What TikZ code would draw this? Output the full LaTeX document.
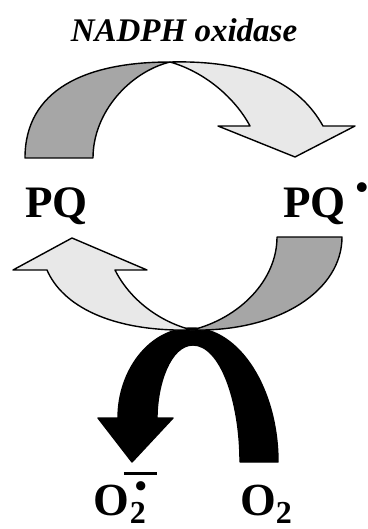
\documentclass[tikz,border=0pt]{standalone}
\usepackage{fontspec}
\setmainfont{Liberation Serif}
\usetikzlibrary{positioning}

\begin{document}
\begin{tikzpicture}[
    x=1pt, y=-1pt,
    band/.style={draw, line width=1.4pt, line join=round, fill=#1},
    band/.default=black!9,
    species/.style={inner sep=0pt, anchor=base west, font=\bfseries\fontsize{45}{45}\selectfont},
    enzyme/.style={inner sep=0pt, anchor=base, font=\bfseries\itshape\fontsize{33}{33}\selectfont},
]
\useasboundingbox (0,0) rectangle (367,529);

% upper cycle: PQ -> PQ radical
\draw[band=black!35] (25,158) .. controls (25,90) and (85,62) .. (170,62)
    .. controls (130,72) and (93,112) .. (93,158) -- cycle;
\draw[band] (170,62) .. controls (255,60) and (300,85) .. (323,126)
    -- (355,126) -- (295,157) -- (218,126) -- (250,126)
    .. controls (235,98) and (205,72) .. (170,62) -- cycle;

% oxygen arch
\draw[band=black] (118,418) .. controls (118,370) and (150,328) .. (192,328)
    .. controls (240,328) and (278,390) .. (278,462) -- (240,462)
    .. controls (240,400) and (220,345) .. (193,345)
    .. controls (170,345) and (157,385) .. (157,418)
    -- (173,418) -- (132,462) -- (98,418) -- cycle;

% lower cycle: PQ radical -> PQ
\draw[band] (192,330) .. controls (110,332) and (62,305) .. (47,270)
    -- (13,270) -- (72,238) -- (147,270) -- (115,270)
    .. controls (130,300) and (160,322) .. (192,330) -- cycle;
\draw[band=black!35] (192,330) .. controls (280,332) and (342,290) .. (342,237)
    -- (277,237) .. controls (277,280) and (240,318) .. (192,330) -- cycle;

\node[enzyme] (nadph) at (184,42) {NADPH oxidase};
\node[species] (pq) at (25,218) {PQ};
\node[species] (pqrad) at (283,218) {PQ\kern10pt\raisebox{18pt}{\fontsize{36}{36}\selectfont\textbullet}};
\node[species, font=\bfseries\fontsize{46}{46}\selectfont] (superox) at (93,515)
    {O\rlap{\hspace{1pt}\raisebox{-8pt}{\fontsize{32}{32}\selectfont 2}}%
     \rlap{\hspace{-5pt}\raisebox{40pt}{\rule{33pt}{3pt}}}%
     \rlap{\hspace{6pt}\raisebox{18pt}{\fontsize{34}{34}\selectfont\textbullet}}};
\node[species, font=\bfseries\fontsize{46}{46}\selectfont] (oxygen) at (240,515)
    {O\raisebox{-8pt}{\fontsize{32}{32}\selectfont 2}};
\end{tikzpicture}
\end{document}
